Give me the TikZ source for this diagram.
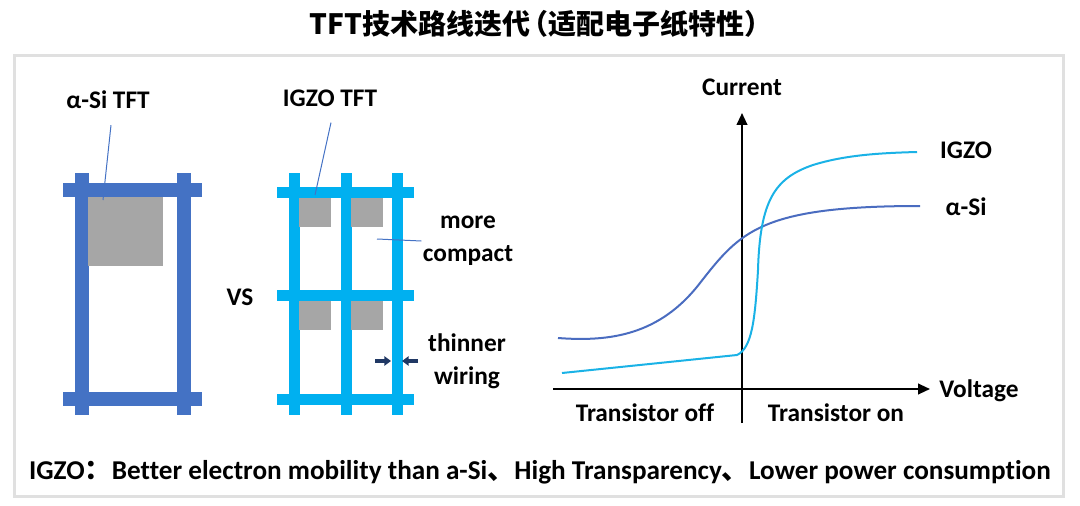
\documentclass[tikz,border=0pt]{standalone}
\usepackage{fontspec}
\setmainfont{Carlito}[Ligatures=NoCommon]
\newfontfamily\cjkfont{Noto Sans CJK SC}
\usetikzlibrary{arrows.meta}

\definecolor{asiblue}{RGB}{68,114,196}
\definecolor{igzoblue}{RGB}{0,176,240}
\definecolor{cellgrey}{RGB}{166,166,166}
\definecolor{pinchnavy}{RGB}{32,56,100}
\definecolor{framegrey}{RGB}{224,224,224}
\definecolor{asicurve}{RGB}{74,108,192}
\definecolor{igzocurve}{RGB}{26,178,230}

\tikzset{every picture/.style={line width=0.75pt}}

\begin{document}
\begin{tikzpicture}[x=0.75pt,y=0.75pt,yscale=-1,xscale=1,
  lbl/.style={inner sep=0.75pt,font=\bfseries\fontsize{19}{22}\selectfont},
  leader/.style={draw=asiblue,line width=0.75pt},
  axis/.style={draw=black,line width=1.5pt,-{Triangle[width=8pt,length=9pt]}},
  pinch/.style={draw=pinchnavy,line width=2.6pt,-{Triangle[width=7pt,length=5pt]}}]
\path[use as bounding box] (0,0) rectangle (1080,506);

% Title
\node[inner sep=0.75pt,font=\cjkfont\bfseries\fontsize{21}{25}\selectfont] (ttl) at (534,24) {\addfontfeature{RawFeature=+halt}TFT技术路线迭代\,（适配电子纸特性）};

%Shape: Frame
\draw[framegrey,line width=2.25pt] (14,56) rectangle (1063,496);

%Shape: a-Si grid
\fill[asiblue] (63,183) rectangle (202,197);
\fill[asiblue] (63,392) rectangle (202,406);
\fill[asiblue] (75,173) rectangle (89,415);
\fill[asiblue] (177,173) rectangle (191,415);
\fill[cellgrey] (88,197) rectangle (163,266);

%Shape: IGZO grid
\foreach \y in {192,295,399}
  \fill[igzoblue] (277,\y-5.5) rectangle (414,\y+5.5);
\foreach \x in {294,346,397}
  \fill[igzoblue] (\x-5.5,173) rectangle (\x+5.5,415);
\foreach \x/\y in {299/198,351/198,299/301,351/301}
  \fill[cellgrey] (\x,\y) rectangle (\x+32,\y+29);

% Text Node
\node[lbl] (asi) at (108,100) {α-Si TFT};
\coordinate (asi-pin) at (103,200);
\draw[leader] ([xshift=2.25pt,yshift=11pt]asi.south) -- (asi-pin);
% Text Node
\node[lbl] (igzo) at (330,98) {IGZO TFT};
\coordinate (igzo-pin) at (315,195);
\draw[leader] ([xshift=0.75pt,yshift=11pt]igzo.south) -- (igzo-pin);
% Text Node
\node[lbl] (vs) at (240,297) {VS};
% Text Node
\node[lbl,align=center] (mc) at (468,241) {more\\[3pt]compact};
\coordinate (mc-pin) at (377,239);
\draw[leader] (mc-pin) -- (mc.west);
% Text Node
\node[lbl,align=center] (tw) at (467,361) {thinner\\[3pt]wiring};
\coordinate (lt-tail) at (375,361);
\coordinate (lt-tip) at (391,361);
\coordinate (rt-tail) at (418,361);
\coordinate (rt-tip) at (402,361);
\draw[pinch] (lt-tail) -- (lt-tip);
\draw[pinch] (rt-tail) -- (rt-tip);

%Straight Lines: axes
\coordinate (ybot) at (742,423);
\coordinate (ytop) at (742,113);
\coordinate (xleft) at (553,389);
\coordinate (xright) at (930,389);
\draw[axis] (ybot) -- (ytop);
\draw[axis] (xleft) -- (xright);

%Curve: a-Si
\draw[asicurve,line width=1.5pt] (558,338) .. controls (610,342) and (660,335) .. (700,283) .. controls (740,232) and (760,206) .. (920,206);
%Curve: IGZO
\draw[igzocurve,line width=1.5pt] (562,373) -- (737,355) .. controls (752,348) and (755,320) .. (758,270) .. controls (760,200) and (775,178) .. (813,165) .. controls (845,155) and (880,153) .. (917,152);

% Text Node
\node[lbl] (cur) at (742,87) {Current};
% Text Node
\node[lbl] (volt) at (979,391) {Voltage};
% Text Node
\node[lbl] (igzo-c) at (966,150) {IGZO};
% Text Node
\node[lbl] (asi-c) at (966,207) {α-Si};
% Text Node
\node[lbl] (off) at (645,413) {Transistor off};
% Text Node
\node[lbl] (on) at (836,413) {Transistor on};

% Text Node
\node[lbl,font=\bfseries\fontsize{20.4}{24}\selectfont] (note) at (540,472) {IGZO{\cjkfont\bfseries ：}Better electron mobility than a-Si{\cjkfont\bfseries 、}High Transparency{\cjkfont\bfseries 、}Lower power consumption};

\end{tikzpicture}
\end{document}
